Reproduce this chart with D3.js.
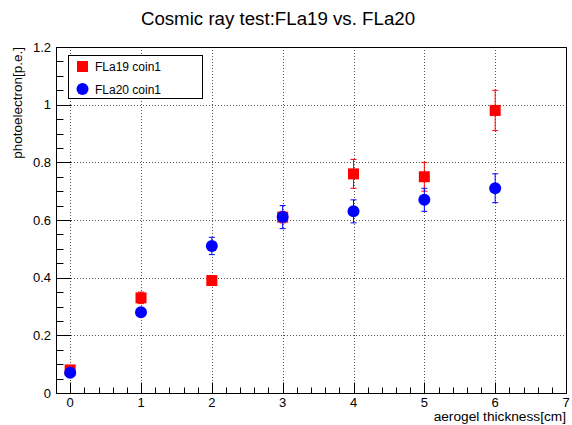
<!DOCTYPE html>
<html>
<head>
<meta charset="utf-8">
<script src="https://cdn.jsdelivr.net/npm/d3@7"></script>
<style>
  body { margin: 0; background: #fff; }
  svg { display: block; font-family: "Liberation Sans", Arial, Helvetica, sans-serif; }
</style>
</head>
<body>
<svg width="572" height="425"></svg>
<script>
// data
var thickness = [0, 1, 2, 3, 4, 5, 6];
var fla19 = [0.08, 0.33, 0.39, 0.61, 0.76, 0.75, 0.98];
var fla19Err = [0.01, 0.02, 0.01, 0.02, 0.05, 0.05, 0.07];
var fla20 = [0.07, 0.28, 0.51, 0.61, 0.63, 0.67, 0.71];
var fla20Err = [0.01, 0.01, 0.03, 0.04, 0.04, 0.04, 0.05];
var xTicks = [0, 1, 2, 3, 4, 5, 6, 7];
var yTicks = [0, 0.2, 0.4, 0.6, 0.8, 1, 1.2];
var seriesNames = ["FLa19 coin1", "FLa20 coin1"];

var svg = d3.select("svg"),
    margin = {top: 47, right: 6, bottom: 32, left: 56},
    width = +svg.attr("width") - margin.left - margin.right,
    height = +svg.attr("height") - margin.top - margin.bottom;

svg.append("rect").attr("width", 572).attr("height", 425).attr("fill", "#fff");

var g = svg.append("g").attr("transform", "translate(" + margin.left + "," + margin.top + ")");

var x = d3.scaleLinear().domain([-0.2, 7]).range([0, width]);
var y = d3.scaleLinear().domain([0, 1.2]).range([height, 0]);

// grid
g.append("g").selectAll("line")
    .data(xTicks.filter(function (d) { return d < 7; }))
    .enter().append("line")
    .attr("x1", function (d) { return Math.round(x(d)) + 0.5; })
    .attr("x2", function (d) { return Math.round(x(d)) + 0.5; })
    .attr("y1", 0).attr("y2", height)
    .attr("stroke", "#555").attr("stroke-dasharray", "1,2");
g.append("g").selectAll("line")
    .data(yTicks.filter(function (d) { return d > 0 && d < 1.2; }))
    .enter().append("line")
    .attr("y1", function (d) { return Math.round(y(d)) + 0.5; })
    .attr("y2", function (d) { return Math.round(y(d)) + 0.5; })
    .attr("x1", 0).attr("x2", width)
    .attr("stroke", "#555").attr("stroke-dasharray", "1,2");

// frame
g.append("rect")
    .attr("x", 0.5).attr("y", 0.5)
    .attr("width", width).attr("height", height)
    .attr("fill", "none").attr("stroke", "#000");

// x axis: ticks drawn inward
var xMinor = d3.range(0, 36).map(function (i) { return -0.2 + i * 0.2; })
    .filter(function (d) { return d > -0.1 && d < 6.95; });
g.append("g").selectAll("line")
    .data(xMinor)
    .enter().append("line")
    .attr("x1", function (d) { return Math.round(x(d)) + 0.5; })
    .attr("x2", function (d) { return Math.round(x(d)) + 0.5; })
    .attr("y1", height)
    .attr("y2", function (d) { return height - (Math.abs(d - Math.round(d)) < 0.01 ? 10.5 : 5.5); })
    .attr("stroke", "#000");
g.append("g").selectAll("text")
    .data(xTicks)
    .enter().append("text")
    .attr("x", function (d) { return x(d); })
    .attr("y", height + 14)
    .attr("text-anchor", "middle")
    .attr("font-size", 13)
    .text(function (d) { return d; });

// y axis
var yMinor = d3.range(0, 24).map(function (i) { return i * 0.05; });
g.append("g").selectAll("line")
    .data(yMinor)
    .enter().append("line")
    .attr("y1", function (d) { return Math.round(y(d)) + 0.5; })
    .attr("y2", function (d) { return Math.round(y(d)) + 0.5; })
    .attr("x1", 0)
    .attr("x2", function (d) { return Math.abs(d * 5 - Math.round(d * 5)) < 0.01 ? 15 : 7.5; })
    .attr("stroke", "#000");
g.append("g").selectAll("text")
    .data(yTicks)
    .enter().append("text")
    .attr("x", -5)
    .attr("y", function (d) { return y(d) + 4.5; })
    .attr("text-anchor", "end")
    .attr("font-size", 13)
    .text(d3.format("~g"));

// axis titles
svg.append("text")
    .attr("x", margin.left + width)
    .attr("y", 421)
    .attr("text-anchor", "end")
    .attr("font-size", 13.7)
    .text("aerogel thickness[cm]");
svg.append("text")
    .attr("transform", "translate(22," + margin.top + ") rotate(-90)")
    .attr("text-anchor", "end")
    .attr("font-size", 13.5)
    .text("photoelectron[p.e.]");

// title
svg.append("text")
    .attr("x", 278)
    .attr("y", 25)
    .attr("text-anchor", "middle")
    .attr("font-size", 18.7)
    .text("Cosmic ray test:FLa19 vs. FLa20");

// series
var series = [
    {vals: fla19, errs: fla19Err, color: "#ff0000", shape: "square"},
    {vals: fla20, errs: fla20Err, color: "#0000ff", shape: "circle"}
];

series.forEach(function (s) {
    var pts = thickness.map(function (t, i) { return {x: t, y: s.vals[i], e: s.errs[i]}; });
    var eg = g.append("g").attr("stroke", s.color).attr("stroke-width", 1);
    pts.forEach(function (d) {
        var cx = x(d.x), top = y(d.y + d.e), bot = y(d.y - d.e);
        eg.append("line").attr("x1", cx).attr("x2", cx).attr("y1", top).attr("y2", bot);
        eg.append("line").attr("x1", cx - 3).attr("x2", cx + 3).attr("y1", top).attr("y2", top);
        eg.append("line").attr("x1", cx - 3).attr("x2", cx + 3).attr("y1", bot).attr("y2", bot);
    });
});

series.forEach(function (s) {
    var pts = thickness.map(function (t, i) { return {x: t, y: s.vals[i]}; });
    var mg = g.append("g").attr("fill", s.color);
    if (s.shape === "square") {
        mg.selectAll("rect").data(pts).enter().append("rect")
            .attr("x", function (d) { return x(d.x) - 5.5; })
            .attr("y", function (d) { return y(d.y) - 5.5; })
            .attr("width", 11).attr("height", 11);
    } else {
        mg.selectAll("circle").data(pts).enter().append("circle")
            .attr("cx", function (d) { return x(d.x); })
            .attr("cy", function (d) { return y(d.y); })
            .attr("r", 6);
    }
});

// legend
var lg = svg.append("g").attr("transform", "translate(68,55)");
lg.append("rect")
    .attr("x", 0.5).attr("y", 0.5)
    .attr("width", 134).attr("height", 43)
    .attr("fill", "#fff").attr("stroke", "#000");
lg.append("rect").attr("x", 9).attr("y", 6).attr("width", 11).attr("height", 11).attr("fill", "#ff0000");
lg.append("circle").attr("cx", 14.5).attr("cy", 34).attr("r", 6).attr("fill", "#0000ff");
lg.selectAll("text.lbl").data(seriesNames).enter().append("text")
    .attr("class", "lbl")
    .attr("x", 27)
    .attr("y", function (d, i) { return 16 + i * 23; })
    .attr("font-size", 12)
    .text(function (d) { return d; });
</script>
</body>
</html>
